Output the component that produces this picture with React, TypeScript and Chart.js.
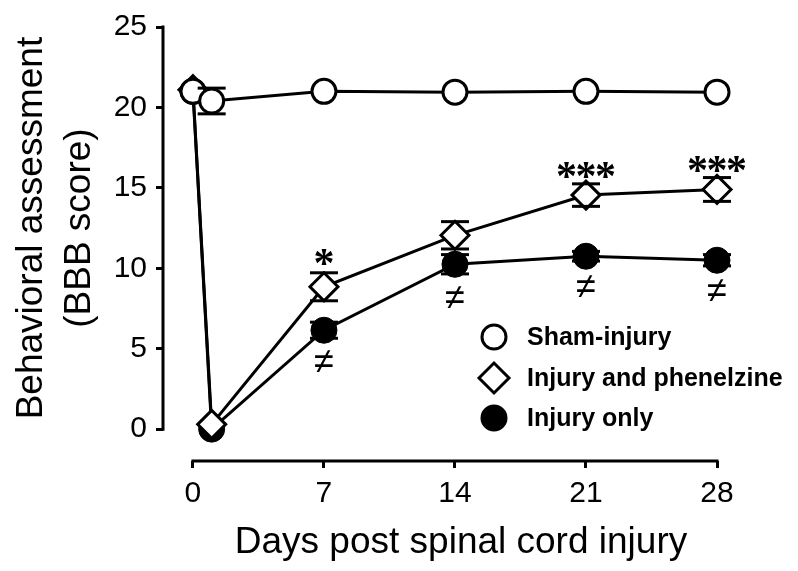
import React, { useEffect, useRef } from "react";
import { Chart, registerables } from "chart.js";

Chart.register(...registerables);

// ---------- data ----------
const days = [0, 1, 7, 14, 21, 28];
const seriesLabels = ["Sham-injury", "Injury and phenelzine", "Injury only"];
const shamValues = [21.0, 20.4, 21.0, 20.95, 21.0, 20.95];
const shamErrors = [0, 0.8, 0, 0, 0, 0];
const phenelzineValues = [21.1, 0.3, 8.85, 12.05, 14.55, 14.9];
const phenelzineErrors = [0, 0, 0.87, 0.85, 0.7, 0.74];
const injuryValues = [21.0, 0.0, 6.15, 10.25, 10.75, 10.5];
const injuryErrors = [0, 0, 0.5, 0.6, 0.3, 0.35];
const xTickValues = [0, 7, 14, 21, 28];
const yTickValues = [0, 5, 10, 15, 20, 25];
const starDays = [7, 21, 28];
const starValues = [10.7, 16.1, 16.5];
const starMarks = ["*", "***", "***"];
const neqDays = [7, 14, 21, 28];
const neqValues = [4.1, 8.1, 8.8, 8.5];
const xTitle = "Days post spinal cord injury";
const yTitle = ["Behavioral assessment", "(BBB score)"];

const SANS = '"Liberation Sans", Arial, Helvetica, sans-serif';
const SERIF = '"Liberation Serif", "Times New Roman", serif';

export default function App() {
  const ref = useRef<HTMLCanvasElement>(null);

  useEffect(() => {
    const canvas = ref.current;
    if (!canvas) return;
    const errorSets = [shamErrors, phenelzineErrors, injuryErrors];
    const toPts = (vals: number[]) => days.map((d, i) => ({ x: d, y: vals[i] }));

    const errorPlugin = {
      id: "errorBars",
      beforeDatasetsDraw(chart: any) {
        const ctx = chart.ctx;
        const xs = chart.scales.x;
        const ys = chart.scales.y;
        ctx.save();
        ctx.strokeStyle = "#000";
        ctx.lineWidth = 3;
        chart.data.datasets.forEach((ds: any, i: number) => {
          ds.data.forEach((p: any, j: number) => {
            const e = errorSets[i][j];
            if (!e) return;
            const px = xs.getPixelForValue(p.x);
            ctx.beginPath();
            ctx.moveTo(px, ys.getPixelForValue(p.y - e));
            ctx.lineTo(px, ys.getPixelForValue(p.y + e));
            ctx.stroke();
          });
        });
        ctx.restore();
      },
      afterDatasetsDraw(chart: any) {
        const ctx = chart.ctx;
        const xs = chart.scales.x;
        const ys = chart.scales.y;
        ctx.save();
        ctx.strokeStyle = "#000";
        ctx.lineWidth = 3;
        chart.data.datasets.forEach((ds: any, i: number) => {
          ds.data.forEach((p: any, j: number) => {
            const e = errorSets[i][j];
            if (!e) return;
            const px = xs.getPixelForValue(p.x);
            [p.y - e, p.y + e].forEach((v) => {
              const py = ys.getPixelForValue(v);
              ctx.beginPath();
              ctx.moveTo(px - 14, py);
              ctx.lineTo(px + 14, py);
              ctx.stroke();
            });
          });
        });
        // significance marks
        ctx.fillStyle = "#000";
        ctx.textAlign = "center";
        ctx.font = `bold 42px ${SERIF}`;
        ctx.textBaseline = "alphabetic";
        starDays.forEach((d, i) => {
          const cx = xs.getPixelForValue(d);
          const cy = ys.getPixelForValue(starValues[i]) + 20;
          const marks = starMarks[i].split("");
          const step = 19.5;
          marks.forEach((m, k) => {
            ctx.fillText(m, cx + (k - (marks.length - 1) / 2) * step, cy);
          });
        });
        ctx.font = `36px ${SANS}`;
        ctx.textBaseline = "middle";
        neqDays.forEach((d, i) => {
          ctx.fillText("\u2260", xs.getPixelForValue(d), ys.getPixelForValue(neqValues[i]));
        });
        ctx.restore();
      },
    };

    const axesPlugin = {
      id: "axesAndTitles",
      afterDraw(chart: any) {
        const ctx = chart.ctx;
        const xs = chart.scales.x;
        const ys = chart.scales.y;
        const area = chart.chartArea;
        ctx.save();
        ctx.strokeStyle = "#000";
        ctx.lineWidth = 3;
        ctx.beginPath();
        ctx.moveTo(area.left, ys.getPixelForValue(yTickValues[yTickValues.length - 1]) - 1.5);
        ctx.lineTo(area.left, ys.getPixelForValue(yTickValues[0]) + 1.5);
        ctx.stroke();
        ctx.beginPath();
        ctx.moveTo(xs.getPixelForValue(xTickValues[0]) - 1.5, area.bottom);
        ctx.lineTo(xs.getPixelForValue(xTickValues[xTickValues.length - 1]) + 1.5, area.bottom);
        ctx.stroke();

        // titles
        ctx.fillStyle = "#000";
        ctx.font = `37px ${SANS}`;
        ctx.textAlign = "center";
        ctx.textBaseline = "alphabetic";
        ctx.fillText(xTitle, 461, 553);
        const cy = (ys.getPixelForValue(0) + ys.getPixelForValue(25)) / 2;
        [42, 90].forEach((bx, i) => {
          ctx.save();
          ctx.translate(bx, cy);
          ctx.rotate(-Math.PI / 2);
          ctx.fillText(yTitle[i], 0, 0);
          ctx.restore();
        });

        // legend
        const lx = 494;
        const lys = [337, 378, 418];
        ctx.font = `bold 25px ${SANS}`;
        ctx.textAlign = "left";
        ctx.textBaseline = "middle";
        chart.data.datasets.forEach((ds: any, i: number) => {
          const y = lys[i];
          ctx.lineWidth = 3;
          ctx.strokeStyle = "#000";
          ctx.fillStyle = ds.pointBackgroundColor;
          ctx.beginPath();
          if (ds.pointStyle === "rectRot") {
            const r = 15;
            ctx.moveTo(lx - r, y);
            ctx.lineTo(lx, y - r);
            ctx.lineTo(lx + r, y);
            ctx.lineTo(lx, y + r);
            ctx.closePath();
          } else {
            ctx.arc(lx, y, 12, 0, Math.PI * 2);
          }
          ctx.fill();
          ctx.stroke();
          ctx.fillStyle = "#000";
          ctx.fillText(seriesLabels[i], 527, y + 1);
        });
        ctx.restore();
      },
    };

    const chart = new Chart(canvas, {
      type: "line",
      data: {
        datasets: [
          {
            label: seriesLabels[0],
            data: toPts(shamValues),
            borderColor: "#000",
            borderWidth: 3,
            pointStyle: "circle",
            pointRadius: 12,
            pointBorderWidth: 3,
            pointBackgroundColor: "#fff",
            pointBorderColor: "#000",
            tension: 0,
            clip: false,
          } as any,
          {
            label: seriesLabels[1],
            data: toPts(phenelzineValues),
            borderColor: "#000",
            borderWidth: 3,
            pointStyle: "rectRot",
            pointRadius: 14,
            pointBorderWidth: 3,
            pointBackgroundColor: "#fff",
            pointBorderColor: "#000",
            tension: 0,
            clip: false,
          } as any,
          {
            label: seriesLabels[2],
            data: toPts(injuryValues),
            borderColor: "#000",
            borderWidth: 3,
            pointStyle: "circle",
            pointRadius: 13,
            pointBorderWidth: 1,
            pointBackgroundColor: "#000",
            pointBorderColor: "#000",
            tension: 0,
            clip: false,
          } as any,
        ],
      },
      options: {
        responsive: false,
        animation: false,
        devicePixelRatio: 1,
        layout: { padding: { top: 25, right: 81, left: 0, bottom: 0 } },
        plugins: { legend: { display: false }, tooltip: { enabled: false } },
        scales: {
          x: {
            type: "linear",
            min: -1.6,
            max: 28,
            afterBuildTicks: (s: any) => {
              s.ticks = xTickValues.map((v) => ({ value: v }));
            },
            afterFit: (s: any) => {
              s.height = 110;
            },
            grid: {
              display: true,
              drawOnChartArea: false,
              drawTicks: true,
              tickLength: 7,
              tickWidth: 3,
              tickColor: "#000",
              color: "#000",
              lineWidth: 3,
            },
            border: { display: false },
            ticks: {
              color: "#000",
              font: { family: SANS, size: 30 },
              padding: 8,
              maxRotation: 0,
              autoSkip: false,
            },
          },
          y: {
            type: "linear",
            min: -1.98,
            max: 25,
            afterBuildTicks: (s: any) => {
              s.ticks = yTickValues.map((v) => ({ value: v }));
            },
            afterFit: (s: any) => {
              s.width = 163;
            },
            grid: {
              display: true,
              drawOnChartArea: false,
              drawTicks: true,
              tickLength: 7,
              tickWidth: 3,
              tickColor: "#000",
              color: "#000",
              lineWidth: 3,
            },
            border: { display: false },
            ticks: {
              color: "#000",
              font: { family: SANS, size: 30 },
              padding: 9,
              autoSkip: false,
            },
          },
        },
      },
      plugins: [errorPlugin, axesPlugin],
    } as any);

    return () => chart.destroy();
  }, []);

  return (
    <div style={{ position: "fixed", left: 0, top: 0, width: 798, height: 571, background: "#fff" }}>
      <canvas ref={ref} width={798} height={571} />
    </div>
  );
}
